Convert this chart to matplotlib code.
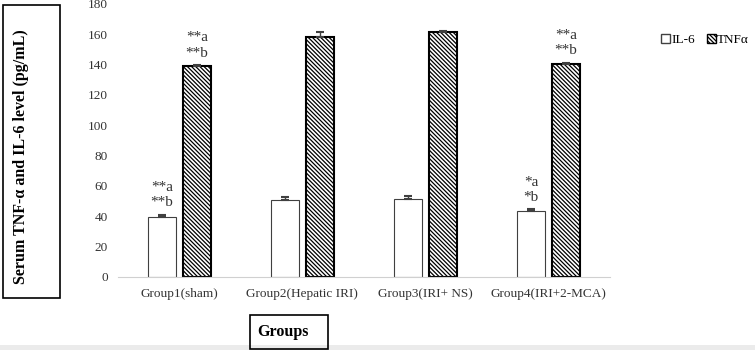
import numpy as np
import matplotlib.pyplot as plt
from matplotlib.patches import Rectangle, Patch

plt.rcParams['font.family'] = ['Liberation Serif', 'DejaVu Serif']
plt.rcParams['hatch.linewidth'] = 0.9

groups = ['Group1(sham)', 'Group2(Hepatic IRI)', 'Group3(IRI+ NS)', 'Group4(IRI+2-MCA)']
il6 = [39.7, 50.8, 51.2, 43.5]
il6_err = [1.5, 2.0, 2.5, 1.0]
tnf = [138.9, 158.4, 161.3, 140.4]
tnf_err = [1.0, 3.0, 1.0, 1.0]
il6_marks = [('**a', '**b'), None, None, ('*a', '*b')]
tnf_marks = [('**a', '**b'), None, None, ('**a', '**b')]

HATCH = '\\' * 8

fig = plt.figure(figsize=(7.55, 3.5), dpi=100)
ax = fig.add_axes([0.156, 0.2086, 0.652, 0.78])

x = np.arange(len(groups))
w = 0.228
off = 0.142
ax.bar(x - off, il6, w, color='white', edgecolor='#404040', linewidth=0.8,
       yerr=[np.zeros(4), il6_err], error_kw=dict(ecolor='#404040', elinewidth=1, capsize=3, capthick=1.5),
       label='IL-6')
ax.bar(x + off, tnf, w, color='white', edgecolor='black', linewidth=1.5, hatch=HATCH,
       yerr=[np.zeros(4), tnf_err], error_kw=dict(ecolor='#404040', elinewidth=1, capsize=3, capthick=1.5),
       label='TNFα')

def mark(xs, vals, errs, marks):
    for xi, v, e, m in zip(xs, vals, errs, marks):
        if m is None:
            continue
        ax.annotate(m[0], (xi, v + e), xytext=(0, 19.5), textcoords='offset points',
                    ha='center', va='center', fontsize=11, color='#333333')
        ax.annotate(m[1], (xi, v + e), xytext=(0, 8.5), textcoords='offset points',
                    ha='center', va='center', fontsize=11, color='#333333')

mark(x - off, il6, il6_err, il6_marks)
mark(x + off, tnf, tnf_err, tnf_marks)

ax.set_xlim(-0.5, 3.5)
ax.set_ylim(0, 180)
ax.set_yticks(np.arange(0, 181, 20))
ax.set_xticks(x)
ax.set_xticklabels(groups)
ax.tick_params(axis='both', length=0, labelsize=9.5, colors='#333333')
ax.tick_params(axis='x', pad=8)
ax.tick_params(axis='y', pad=7)
for s in ['top', 'right', 'left']:
    ax.spines[s].set_visible(False)
ax.spines['bottom'].set_color('#d0d0d0')

leg_handles = [Patch(facecolor='white', edgecolor='#404040', label='IL-6'),
               Patch(facecolor='white', edgecolor='black', hatch=HATCH, label='TNFα')]
fig.legend(handles=leg_handles, loc='center left', bbox_to_anchor=(0.875, 0.886), ncol=2,
           frameon=False, fontsize=9.5, handlelength=0.7, handleheight=0.7,
           handletextpad=0.1, columnspacing=0.9, borderpad=0, borderaxespad=0)

# boxed y label
fig.patches.append(Rectangle((3 / 755, 1 - 298 / 350), 57 / 755, 293 / 350,
                             transform=fig.transFigure, fill=False, edgecolor='black', lw=1.2))
fig.text(21 / 755, 1 - 157 / 350, 'Serum TNF-α and IL-6 level (pg/mL)', rotation=90,
         ha='center', va='center', fontsize=11.5, fontweight='bold')

# boxed x label
fig.patches.append(Rectangle((250 / 755, 1 - 349 / 350), 78 / 755, 34 / 350,
                             transform=fig.transFigure, fill=False, edgecolor='black', lw=1.2))
fig.text(283 / 755, 1 - 332 / 350, 'Groups', ha='center', va='center',
         fontsize=11.5, fontweight='bold')

# light gray strip at bottom
fig.patches.append(Rectangle((0, 0), 1, 5 / 350, transform=fig.transFigure,
                             facecolor='#ebebeb', edgecolor='none', zorder=-1))

fig.savefig('out.png', dpi=100)
